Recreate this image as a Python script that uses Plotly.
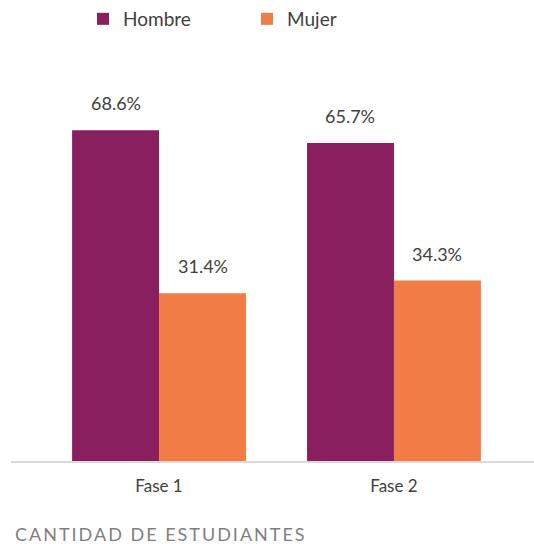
import plotly.graph_objects as go

categories = ["Fase 1", "Fase 2"]
hombre = [68.6, 65.7]
mujer = [31.4, 34.3]
series_names = ["Hombre", "Mujer"]
colors = ["#8A1F60", "#F27C45"]
caption = "CANTIDAD DE ESTUDIANTES"

AXIS_FLOOR = -6.9
AXIS_TOP = 84.4
FONT = "Lato"
TEXT_COLOR = "#404040"

fig = go.Figure()
for name, vals, col in zip(series_names, [hombre, mujer], colors):
    fig.add_trace(go.Bar(
        name=name,
        x=categories,
        y=[v - AXIS_FLOOR for v in vals],
        base=[AXIS_FLOOR] * len(vals),
        marker=dict(color=col, line=dict(width=0)),
        hoverinfo="skip",
    ))

# value labels
for vals, shift in [(hombre, -43.5), (mujer, 43.5)]:
    for c, v in zip(categories, vals):
        fig.add_annotation(
            x=c, y=v, xref="x", yref="y", text=f"{v:.1f}%",
            showarrow=False, xshift=shift, yshift=27,
            font=dict(family=FONT, size=18, color=TEXT_COLOR),
        )

fig.add_annotation(
    x=0.0038, y=-0.182, xref="paper", yref="paper",
    xanchor="left", yanchor="middle", showarrow=False,
    text=f'<span style="letter-spacing:2px">{caption}</span>',
    font=dict(family=FONT, size=18, color="#7F7F7F"),
)

fig.update_layout(
    width=534, height=544,
    margin=dict(l=11, r=0, t=60, b=83),
    paper_bgcolor="white", plot_bgcolor="white",
    barmode="group", bargap=0.26, bargroupgap=0,
    font=dict(family=FONT, size=18, color=TEXT_COLOR),
    showlegend=True,
    legend=dict(
        orientation="h", x=0.1377, xanchor="left", y=1.105, yanchor="middle",
        font=dict(family=FONT, size=19, color=TEXT_COLOR),
        entrywidth=119, entrywidthmode="pixels", traceorder="normal",
        bgcolor="rgba(0,0,0,0)",
    ),
    xaxis=dict(
        range=[-0.630, 1.596], showline=True, linecolor="#D9D9D9", linewidth=2,
        ticks="", showgrid=False, zeroline=False, ticklabelstandoff=9,
        tickfont=dict(family=FONT, size=17, color=TEXT_COLOR),
    ),
    yaxis=dict(
        range=[AXIS_FLOOR, AXIS_TOP], visible=False, showgrid=False, zeroline=False,
    ),
)

fig.write_html(
    "out.html",
    config={"displayModeBar": False},
    post_script="document.body.style.margin='0';",
)
